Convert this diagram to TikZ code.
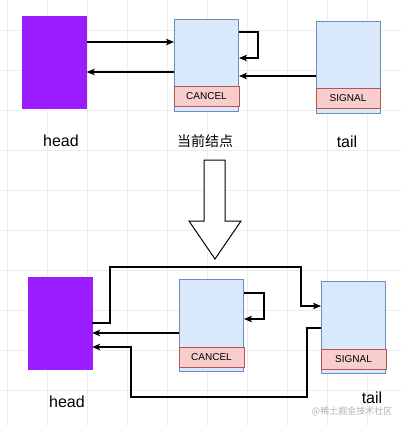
\documentclass[tikz,border=0pt]{standalone}
\usepackage{fontspec}
\setmainfont{Liberation Sans}
\newfontfamily\cjk{Noto Sans CJK SC}
\usepackage{tikz}
\usetikzlibrary{arrows.meta}
\definecolor{headPurple}{HTML}{9A1CFF}
\definecolor{nodeBlue}{HTML}{DAE8FC}
\definecolor{nodeBlueLine}{HTML}{6C8EBF}
\definecolor{tagRed}{HTML}{F8CECC}
\definecolor{tagRedLine}{HTML}{B85450}
\tikzset{
    headBox/.style={fill=headPurple, draw=headPurple, minimum width=64pt, minimum height=92pt, inner sep=0pt},
    nodeBox/.style={fill=nodeBlue, draw=nodeBlueLine, line width=1pt, minimum width=64pt, minimum height=92pt, inner sep=0pt},
    tagBox/.style={fill=tagRed, draw=tagRedLine, line width=1pt, minimum width=65pt, minimum height=20pt, inner sep=0pt, font=\fontsize{10}{12}\selectfont},
    nameLabel/.style={font=\fontsize{16}{18}\selectfont, inner sep=1pt},
    link/.style={line width=1.1pt, -{Stealth[length=8pt,width=6.5pt,inset=2pt]}},
    gridLine/.style={draw=black!7, line width=0.6pt}
}

\begin{document}
\begin{tikzpicture}[x=1pt,y=-1pt]
			\useasboundingbox (0,0) rectangle (401,426);
			\fill[white] (0,0) rectangle (401,426);
			\foreach \gx in {7,47,...,407} \draw[gridLine] (\gx,0) -- (\gx,426);
			\foreach \gy in {30,70,...,390} \draw[gridLine] (0,\gy) -- (401,\gy);
			% before
			\node[headBox] (head1) at (54.5,62.5) {};
			\node[nodeBox] (cur1) at (206.5,65) {};
			\node[tagBox] (cancel1) at (206.5,96.5) {CANCEL};
			\node[nodeBox] (tail1) at (348,67) {};
			\node[tagBox, minimum width=64pt] (signal1) at (348,98.5) {SIGNAL};
			\node[nameLabel] (headName1) at (61,141) {head};
			\node[font=\cjk\fontsize{14}{16}\selectfont] (curName1) at (205,141) {当前结点};
			\node[nameLabel] (tailName1) at (347,142) {tail};
			\draw[link] (head1.east |- 0,42) -- (cur1.west |- 0,42);
			\draw[link] (cur1.west |- 0,72) -- (head1.east |- 0,72);
			\draw[link] (cur1.east |- 0,32) -| (258,58) -- (cur1.east |- 0,58);
			\draw[link] (tail1.west |- 0,76) -- (cur1.east |- 0,76);
			% big arrow
			\draw[line width=1pt, fill=white] (204,160) -- (225,160) -- (225,221) -- (241,221) -- (215,259) -- (189,221) -- (204,221) -- cycle;
			% after
			\node[headBox] (head2) at (60,323) {};
			\node[nodeBox] (cur2) at (211.5,325.5) {};
			\node[tagBox] (cancel2) at (211.5,357) {CANCEL};
			\node[nodeBox] (tail2) at (353.5,327.5) {};
			\node[tagBox] (signal2) at (353.5,359) {SIGNAL};
			\node[nameLabel] (headName2) at (67,401.5) {head};
			\node[nameLabel] (tailName2) at (372,398) {tail};
			\draw[link] (head2.east) -- (110,323) |- (301,267) |- (tail2.west |- 0,306);
			\draw[link] (cur2.west |- 0,333) -- (head2.east |- 0,333);
			\draw[link] (cur2.east |- 0,293) -| (264,319) -- (cur2.east |- 0,319);
			\draw[link] (tail2.west |- 0,328) -| (307,397) -| (131,347) -- (head2.east |- 0,347);
			\node[text=black!30, inner sep=0pt, font=\cjk\fontsize{9}{10}\selectfont] (mark) at (352,411) {@稀土掘金技术社区};
		\end{tikzpicture}
\end{document}
